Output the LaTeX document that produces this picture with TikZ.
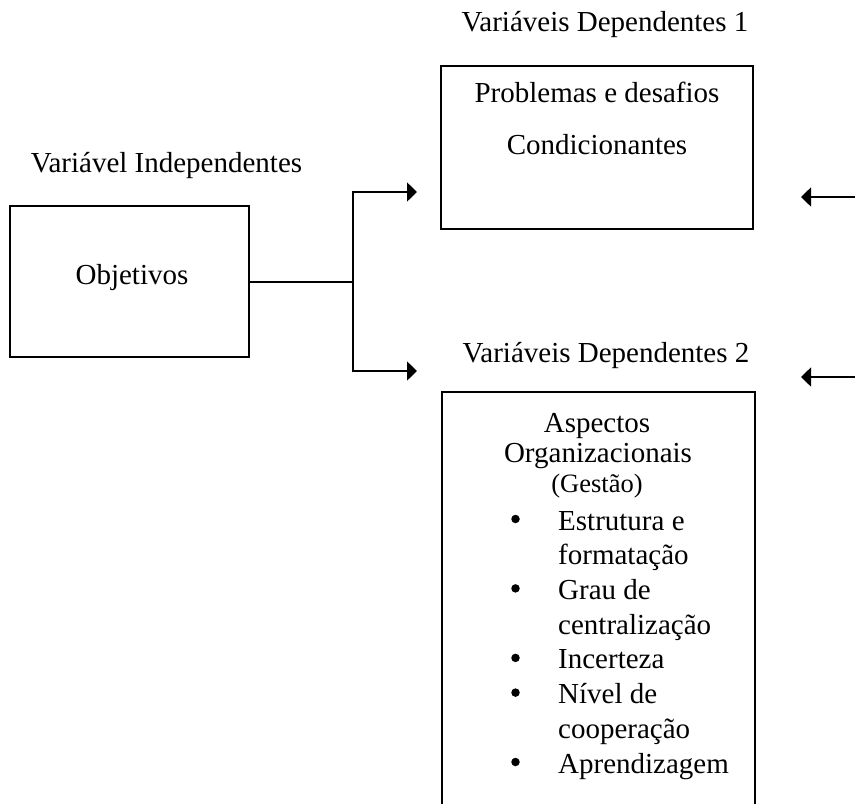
\documentclass[tikz,border=0pt]{standalone}
\usepackage{fontspec}
\setmainfont{Liberation Serif}
\usetikzlibrary{arrows.meta}
\begin{document}
\begin{tikzpicture}[x=1pt,y=-1pt,
  box/.style={draw, line width=1.6pt, rectangle, inner sep=0pt},
  lbl/.style={anchor=base, inner sep=0pt, font=\fontsize{29}{32}\selectfont},
  smalllbl/.style={anchor=base, inner sep=0pt, font=\fontsize{26.5}{30}\selectfont},
  itemtext/.style={anchor=base west, inner sep=0pt, font=\fontsize{29}{32}\selectfont},
  bulletmark/.style={circle, fill, inner sep=0pt, minimum size=8.5pt},
  link/.style={line width=1.6pt},
  arr/.style={link, -{Triangle[length=10pt,width=19pt]}}]
\useasboundingbox (0,0) rectangle (855,804);
\clip (0,0) rectangle (855,804);

% boxes
\node[box, minimum width=239pt, minimum height=151pt] (obj) at (129.5,281.5) {};
\node[box, minimum width=312pt, minimum height=163pt] (dep1) at (597,147.5) {};
\node[box, minimum width=313pt, minimum height=440pt] (dep2) at (598.5,612) {};

% headings
\node[lbl] (hind) at (166.5,172) {Variável Independentes};
\node[lbl] (hdep1) at (605,31) {Variáveis Dependentes 1};
\node[lbl] (hdep2) at (606,362) {Variáveis Dependentes 2};

% box texts
\node[lbl] (tobj) at (132,284) {Objetivos};
\node[lbl] (tprob) at (597,102) {Problemas e desafios};
\node[lbl] (tcond) at (597,154) {Condicionantes};
\node[lbl] (tasp) at (597,432) {Aspectos};
\node[lbl] (torg) at (598,462) {Organizacionais};
\node[smalllbl] (tges) at (597,492) {(Gestão)};

% bulleted list
\foreach \y/\b/\t [count=\i] in {
  530/1/Estrutura e,
  564.7/0/formatação,
  599.4/1/Grau de,
  634.1/0/centralização,
  668.9/1/Incerteza,
  703.6/1/Nível de,
  738.3/0/cooperação,
  773/1/Aprendizagem}{
  \node[itemtext] (item\i) at (558,\y) {\t};
  \ifnum\b=1 \node[bulletmark] (dot\i) at (515.5,\y-11) {};\fi
}

% connectors from the independent variable
\coordinate (junc) at (353,282);
\coordinate (tipa) at (417,192);
\coordinate (tipb) at (417,371);
\draw[link] (obj.east |- junc) -- (junc);
\draw[arr] (junc) |- (tipa);
\draw[arr] (junc) |- (tipb);

% incoming arrows from the right
\coordinate (ina) at (862,197);
\coordinate (inatip) at (801,197);
\coordinate (inb) at (862,377);
\coordinate (inbtip) at (801,377);
\draw[arr] (ina) -- (inatip);
\draw[arr] (inb) -- (inbtip);
\end{tikzpicture}
\end{document}
